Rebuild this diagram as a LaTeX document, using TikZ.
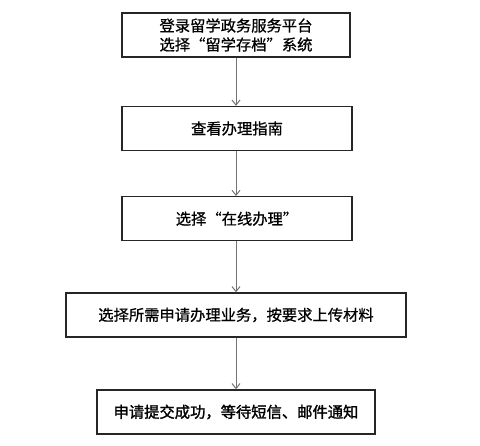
\documentclass[tikz,border=0pt]{standalone}
\usepackage{fontspec}
\newfontfamily\cjk[FakeBold=0.8]{Noto Sans CJK SC}
\newfontfamily\cjkb[FakeBold=1.6]{Noto Sans CJK SC}
\usetikzlibrary{arrows.meta}
\begin{document}
\begin{tikzpicture}[x=1pt,y=-1pt,
  stepbox/.style={draw=black!85, line width=1.3pt, minimum height=44pt, inner sep=0pt, align=center, font=\cjk\fontsize{15.3}{19}\selectfont},
  flow/.style={draw=black!55, line width=1pt, -{Straight Barb[length=5pt,width=8pt]}}]
\useasboundingbox (0,0) rectangle (480,446);
\node[stepbox, minimum width=228pt] (a) at (236,35) {登录留学政务服务平台\\选择“留学存档”系统};
\node[stepbox, minimum width=230pt] (b) at (237,128.5) {查看办理指南};
\node[stepbox, minimum width=230pt] (c) at (237,218.7) {选择“在线办理”};
\node[stepbox, minimum width=340pt] (d) at (236,315) {选择所需申请办理业务，按要求上传材料};
\node[stepbox, minimum width=278pt, font=\cjkb\fontsize{15.3}{19}\selectfont] (e) at (236,412) {申请提交成功，等待短信、邮件通知};
\draw[flow] (a.south -| 236,0) -- (b.north -| 236,0);
\draw[flow] (b.south -| 236,0) -- (c.north -| 236,0);
\draw[flow] (c.south -| 236,0) -- (d.north -| 236,0);
\draw[flow] (d.south -| 236,0) -- (e.north -| 236,0);
\end{tikzpicture}
\end{document}
